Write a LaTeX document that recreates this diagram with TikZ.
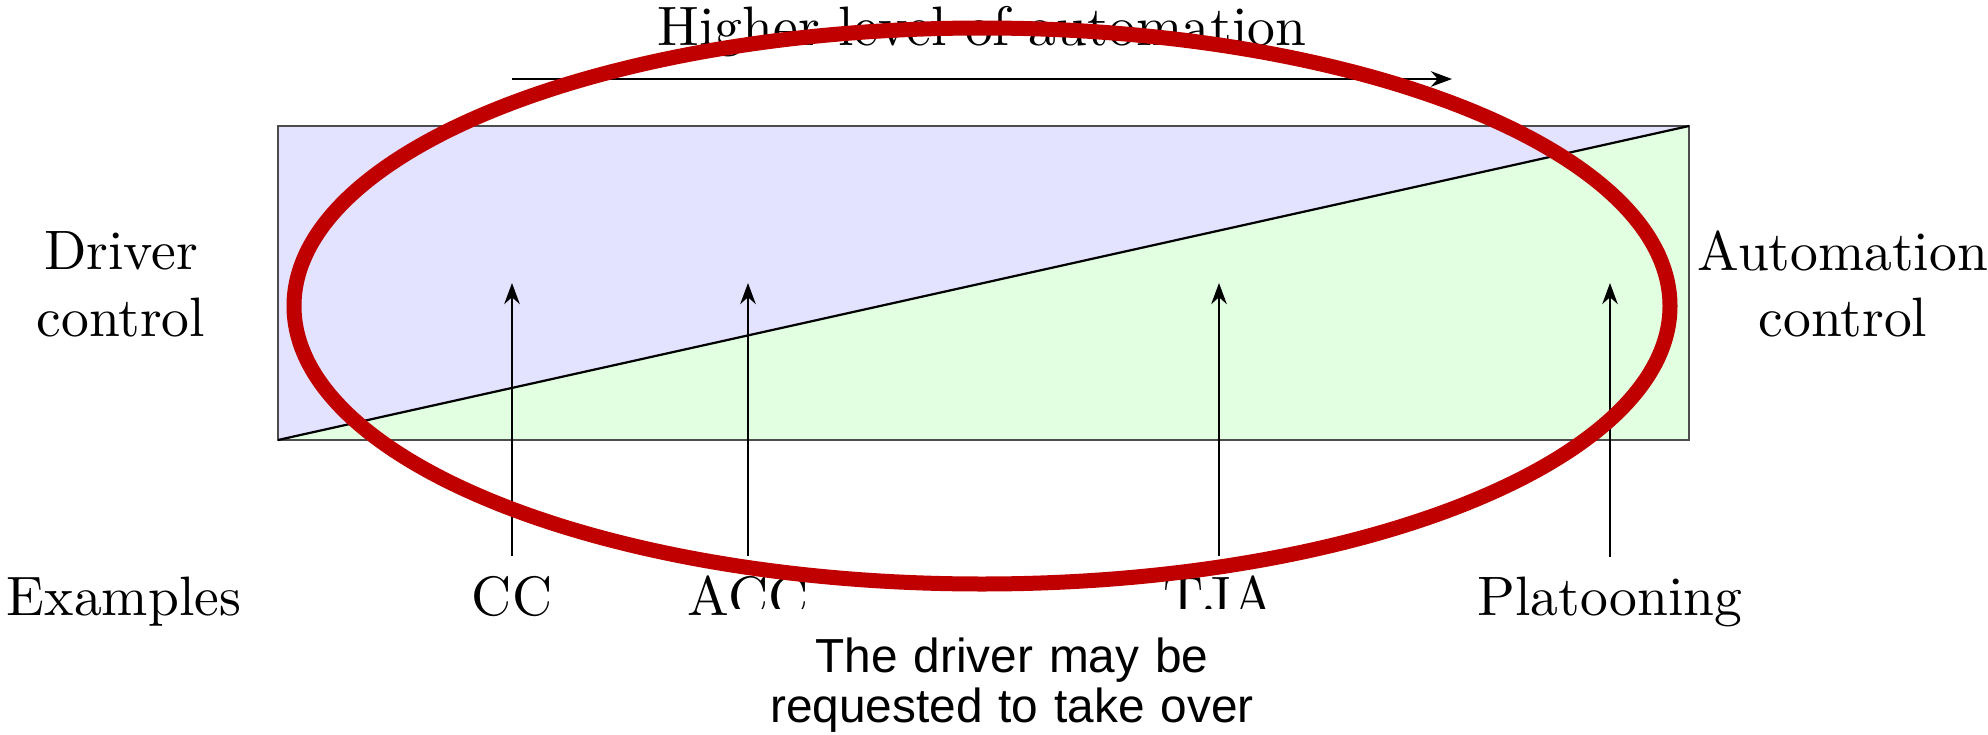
\documentclass[tikz,border=0pt]{standalone}
\usepackage{fontspec}
\newfontfamily\notefont{Liberation Sans}
\usetikzlibrary{arrows.meta,positioning,shapes.geometric}
\definecolor{drvblue}{RGB}{227,227,255}
\definecolor{autogreen}{RGB}{226,255,226}
\definecolor{markred}{RGB}{192,0,0}

\begin{document}
\begin{tikzpicture}[>={Stealth[length=3.8pt,width=2.8pt]},x=0.18pt,y=-0.18pt]
\tikzstyle{sidelabel}=[align=center]
\tikzstyle{example}=[anchor=base]
\tikzstyle{note}=[fill=white,align=center,anchor=north,text width=92pt,inner xsep=4pt,inner ysep=5.2pt,font=\notefont\fontsize{8.6}{9}\selectfont]
\useasboundingbox (0,0) rectangle (1988,735);

\coordinate (bl) at (278,440);
\coordinate (tr) at (1689,126);
\coordinate (br) at (1689,440);
\fill[drvblue] (bl) rectangle (tr);
\fill[autogreen] (bl)--(tr)--(br)--cycle;
\draw[black!70] (bl) rectangle (tr);
\draw (bl)--(tr);

\coordinate (hl-start) at (512,79);
\coordinate (hl-end) at (1452,79);
\draw[->] (hl-start)--node[above=0.5pt] (hl-label) {Higher level of automation} (hl-end);

\node[sidelabel] (driver) at (121,284) {Driver\\control};
\node[sidelabel] (auto) at (1843,284) {Automation\\control};

\node[example] (examples) at (124,615) {Examples};
\node[example] (cc) at (512,615) {CC};
\node[example] (acc) at (748,615) {ACC};
\node[example] (tja) at (1219,615) {TJA};
\node[example] (plat) at (1610,615) {Platooning};

\coordinate (cc-tip) at (512,283);
\coordinate (acc-tip) at (748,283);
\coordinate (tja-tip) at (1219,283);
\coordinate (plat-tip) at (1610,283);
\draw[->] (cc.north)--(cc-tip);
\draw[->] (acc.north)--(acc-tip);
\draw[->] (tja.north)--(tja-tip);
\draw[->] (plat.north)--(plat-tip);

\draw[markred,line width=2.7pt] (982,306) ellipse [x radius=688,y radius=278];

\node[note] (takeover) at (1012,608) {The driver may be\\requested to take over};
\end{tikzpicture}
\end{document}
